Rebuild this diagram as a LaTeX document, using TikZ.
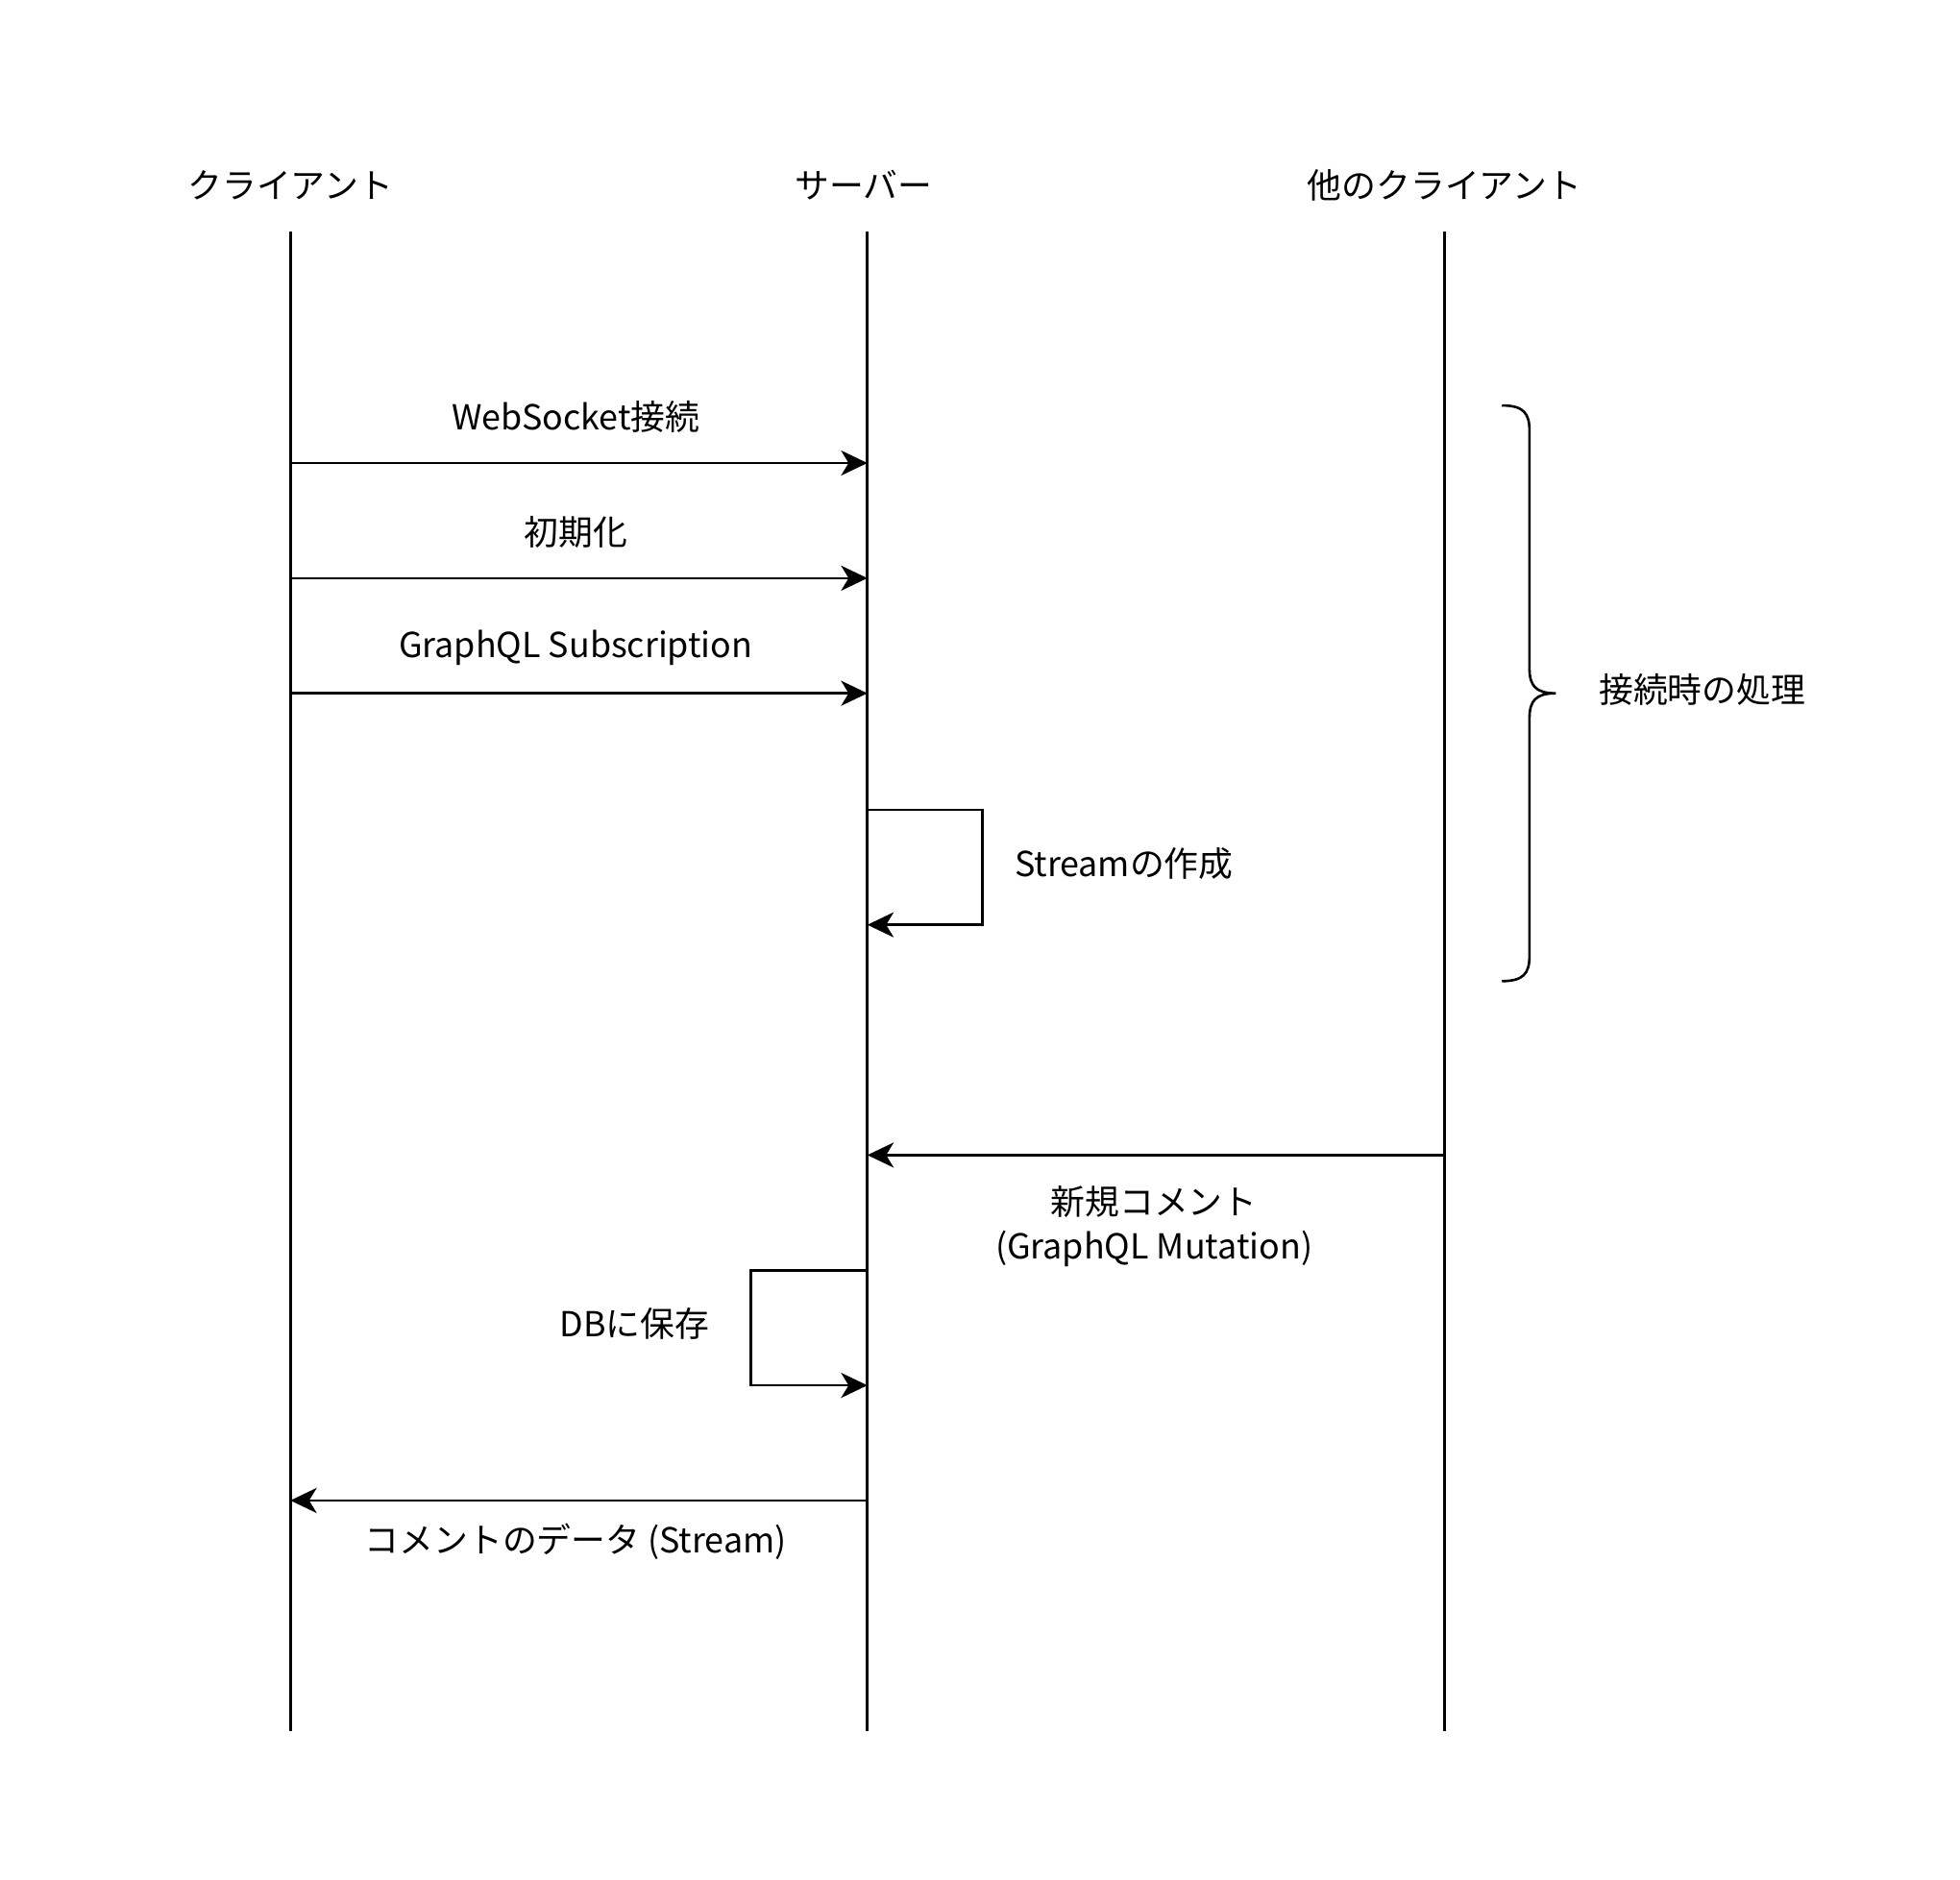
\documentclass[tikz,border=0pt]{standalone}
\usepackage{fontspec}
\setmainfont{Noto Sans CJK JP}
\usetikzlibrary{arrows.meta}
\tikzset{
  life/.style={line width=1pt},
  msg/.style={line width=1pt,-{Stealth[length=10.5pt,width=10pt,inset=3pt]}},
  lbl/.style={inner sep=0pt,align=center,font=\fontsize{13.75}{17.5}\selectfont},
}
\begin{document}
\begin{tikzpicture}[x=0.5pt,y=-0.5pt]
\useasboundingbox (0,0) rectangle (1566,1502);
% lifelines
\node[lbl] (client) at (232,148) {クライアント};
\node[lbl] (server) at (690,148) {サーバー};
\node[lbl] (other) at (1154,148) {他のクライアント};
\coordinate (clientTop) at (232,185);
\coordinate (clientEnd) at (232,1383);
\coordinate (serverTop) at (693,185);
\coordinate (serverEnd) at (693,1383);
\coordinate (otherTop) at (1154,185);
\coordinate (otherEnd) at (1154,1383);
\draw[life] (clientTop) -- (clientEnd);
\draw[life] (serverTop) -- (serverEnd);
\draw[life] (otherTop) -- (otherEnd);
% connection
\coordinate (c1) at (232,370);
\coordinate (s1) at (693,370);
\draw[msg] (c1) -- (s1);
\node[lbl] (ws) at (460,333) {WebSocket接続};
\coordinate (c2) at (232,462);
\coordinate (s2) at (693,462);
\draw[msg] (c2) -- (s2);
\node[lbl] (init) at (460,425) {初期化};
\coordinate (c3) at (232,554);
\coordinate (s3) at (693,554);
\draw[msg] (c3) -- (s3);
\node[lbl] (sub) at (460,518) {GraphQL Subscription};
\coordinate (s4) at (693,647);
\coordinate (s5) at (693,739);
\draw[msg] (s4) -- ++(92,0) |- (s5);
\node[lbl] (stream) at (898,690) {Streamの作成};
% brace
\coordinate (braceTop) at (1200,324);
\coordinate (braceTip) at (1243,554);
\coordinate (braceEnd) at (1200,784);
\draw[life] (braceTop) .. controls (1217,324) and (1222,330) .. (1222,344)
  -- (1222,534) .. controls (1222,548) and (1227,554) .. (braceTip)
  .. controls (1227,554) and (1222,560) .. (1222,574)
  -- (1222,764) .. controls (1222,778) and (1217,784) .. (braceEnd);
\node[lbl] (onconnect) at (1360,551) {接続時の処理};
% new comment
\coordinate (o6) at (1154,923);
\coordinate (s6) at (693,923);
\draw[msg] (o6) -- (s6);
\node[lbl] (mutation) at (922,980) {新規コメント\\(GraphQL Mutation)};
\coordinate (s7) at (693,1015);
\coordinate (s8) at (693,1107);
\draw[msg] (s7) -- ++(-93,0) |- (s8);
\node[lbl] (save) at (507,1058) {DBに保存};
\coordinate (s9) at (693,1199);
\coordinate (c9) at (232,1199);
\draw[msg] (s9) -- (c9);
\node[lbl] (data) at (460,1232) {コメントのデータ (Stream)};
\end{tikzpicture}
\end{document}
